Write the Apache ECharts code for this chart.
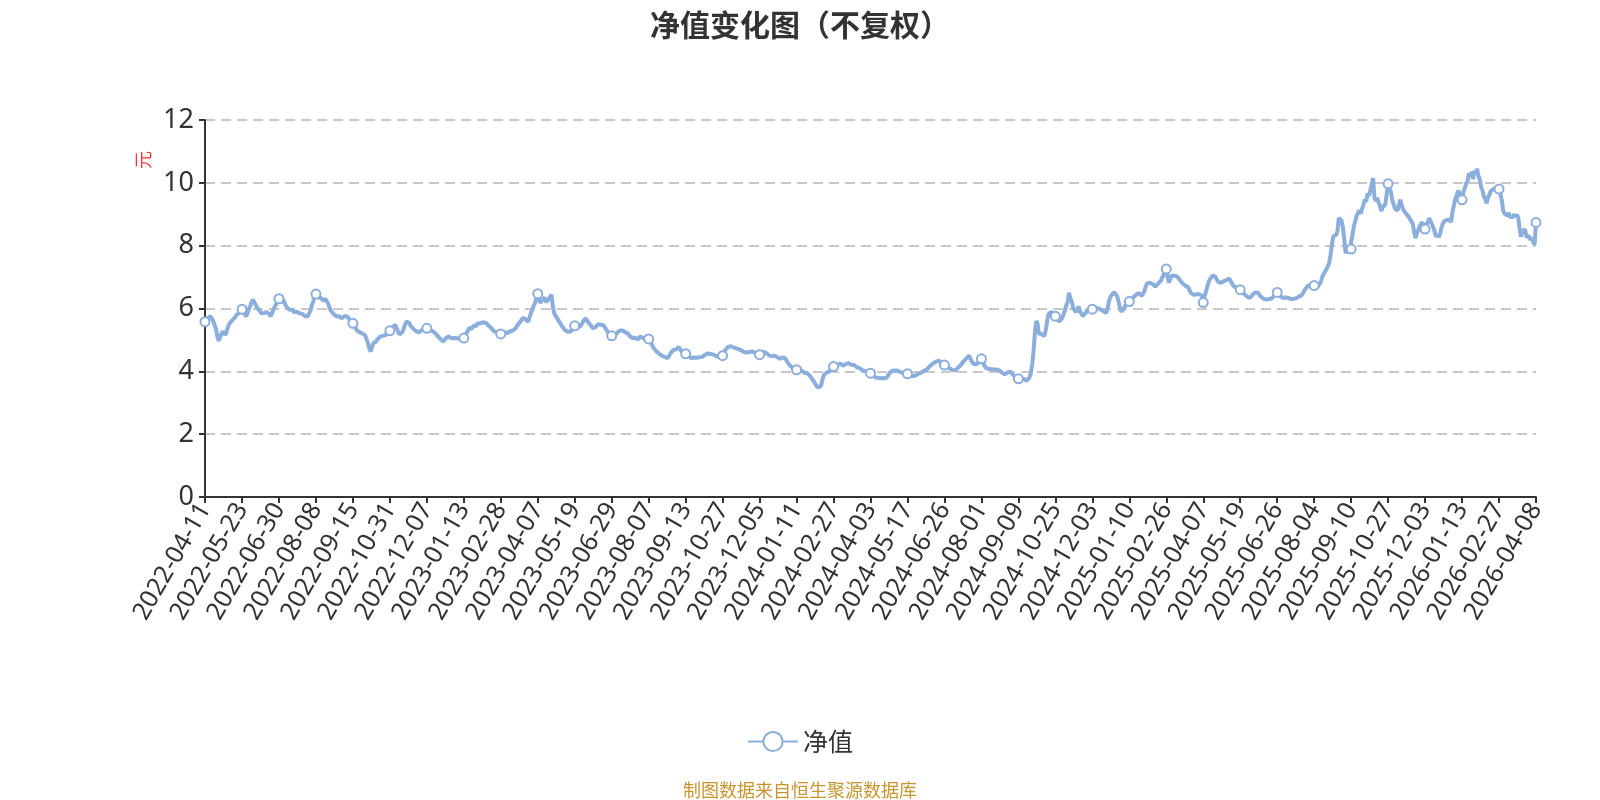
<!DOCTYPE html>
<html><head><meta charset="utf-8">
<script src="https://cdn.jsdelivr.net/npm/echarts@6/dist/echarts.min.js"></script>
<style>html,body{margin:0;padding:0;background:#fff}#c{width:1600px;height:800px}</style>
</head><body><div id="c"></div><script>
// ---- data ----
const startDate = '2022-04-11';
const marketHolidays = [
 '2022-05-02','2022-05-03','2022-05-04','2022-06-03','2022-09-12','2022-10-03','2022-10-04','2022-10-05','2022-10-06','2022-10-07',
 '2023-01-02','2023-01-23','2023-01-24','2023-01-25','2023-01-26','2023-01-27','2023-04-05','2023-05-01','2023-05-02','2023-05-03','2023-06-22','2023-06-23','2023-09-29','2023-10-02','2023-10-03','2023-10-04','2023-10-05','2023-10-06',
 '2024-01-01','2024-02-09','2024-02-12','2024-02-13','2024-02-14','2024-02-15','2024-02-16','2024-04-04','2024-04-05','2024-05-01','2024-05-02','2024-05-03','2024-06-10','2024-09-16','2024-09-17','2024-10-01','2024-10-02','2024-10-03','2024-10-04','2024-10-07',
 '2025-01-01','2025-01-28','2025-01-29','2025-01-30','2025-01-31','2025-02-03','2025-02-04','2025-04-04','2025-05-01','2025-05-02','2025-05-05','2025-06-02','2025-10-01','2025-10-02','2025-10-03','2025-10-06','2025-10-07','2025-10-08',
 '2026-01-01','2026-01-02','2026-02-16','2026-02-17','2026-02-18','2026-02-19','2026-02-20','2026-02-23','2026-04-06'
];
// quarter-end NAV dates that fall on a weekend
const extraNavDates = ['2022-12-31','2023-09-30','2023-12-31','2024-03-31','2024-06-30'];
const yTicks = [0, 2, 4, 6, 8, 10, 12];
const seriesName = '净值';

const navA = [
 5.58,5.62,5.70,5.66,5.75,5.71,5.60,5.48,5.35,5.12,4.97,5.08,5.20,5.27,5.22,5.16,5.30,5.44,5.53,5.58,5.63,5.60,5.72,5.80,5.76,5.86,5.93,
 5.98,5.90,5.82,5.75,5.84,5.97,6.08,6.20,6.28,6.22,6.12,6.03,5.98,5.92,5.85,5.80,5.86,5.91,5.88,5.90,5.82,5.75,5.86,5.97,6.06,6.14,6.22,
 6.31,6.25,6.20,6.28,6.22,6.10,6.02,5.98,5.96,5.92,5.95,5.88,5.91,5.90,5.86,5.85,5.81,5.83,5.78,5.75,5.72,5.75,5.80,5.93,6.10,6.22,6.38,
 6.46,6.40,6.35,6.38,6.33,6.25,6.22,6.30,6.28,6.15,6.02,5.92,5.88,5.82,5.78,5.75,5.72,5.75,5.70,5.69,5.72,5.76,5.80,5.74,5.68,5.62,5.58,
 5.53,5.45,5.38,5.30,5.27,5.24,5.26,5.20,5.22,5.15,5.11,4.90,4.72,4.63,4.78,4.90,4.86,4.95,5.02,5.08,5.11,5.06,5.13,5.18,5.16,5.22,5.26,
 5.29,5.32,5.40,5.45,5.48,5.38,5.25,5.18,5.16,5.24,5.35,5.48,5.58,5.64,5.55,5.46,5.40,5.36,5.32,5.28,5.25,5.24,5.27,5.30,5.33,5.35,5.38,
 5.37,5.35,5.32,5.30,5.28,5.27,5.22,5.16,5.12,5.08,5.02,4.97,4.95,5.00,5.06,5.09,5.11,5.07,5.05,5.08,5.06,5.08,5.05,5.07,5.04,5.06,5.05,
 5.06,5.12,5.22,5.30,5.38,5.42,5.36,5.45,5.48,5.44,5.52,5.47,5.53,5.50,5.56,5.54,5.55,5.50,5.46,5.43,5.38,5.32,5.28,5.26,5.23,5.21,5.20,
 5.19,5.17,5.20,5.24,5.21,5.22,5.25,5.28,5.27,5.30,5.32,5.38,5.45,5.52,5.55,5.62,5.70,5.75,5.66,5.60,5.58,5.72,5.86,5.96,6.08,6.17,6.32
];
const navB = [
 6.47,6.28,6.18,6.26,6.30,6.35,6.20,6.18,6.30,6.36,6.44,6.08,5.85,5.80,5.70,5.68,5.56,5.52,5.42,5.40,5.31,5.30,5.26,5.31,5.27,5.33,5.38,
 5.45,5.40,5.42,5.38,5.43,5.50,5.58,5.63,5.69,5.62,5.55,5.50,5.45,5.38,5.34,5.40,5.46,5.50,5.53,5.48,5.51,5.47,5.42,5.33,5.27,5.20,5.16,
 5.13,5.16,5.14,5.20,5.22,5.26,5.30,5.32,5.30,5.28,5.24,5.27,5.20,5.13,5.08,5.06,5.04,5.07,5.03,5.02,5.08,5.11,5.07,5.05,5.08,5.04,5.05,
 5.03,4.95,4.88,4.79,4.72,4.66,4.62,4.58,4.55,4.52,4.49,4.47,4.45,4.43,4.42,4.48,4.58,4.64,4.68,4.72,4.70,4.74,4.77,4.70,4.64,4.60,4.58,
 4.56,4.52,4.48,4.45,4.42,4.40,4.44,4.41,4.43,4.42,4.45,4.47,4.46,4.49,4.52,4.55,4.57,4.58,4.55,4.53,4.54,4.52,4.49,4.47,4.46,4.49,4.48,
 4.50,4.60,4.68,4.72,4.78,4.81,4.80,4.79,4.76,4.78,4.73,4.72,4.70,4.68,4.66,4.63,4.61,4.58,4.60,4.58,4.62,4.65,4.63,4.60,4.58,4.55,4.54,
 4.53,4.56,4.60,4.62,4.63,4.58,4.54,4.50,4.52,4.49,4.48,4.50,4.47,4.45,4.44,4.40,4.42,4.45,4.47,4.40,4.32,4.25,4.20,4.15,4.12,4.10,4.07,
 4.05,4.03,4.04,4.00,4.01,3.98,3.95,3.96,3.94,3.90,3.84,3.80,3.72,3.67,3.58,3.50,3.46,3.50,3.57,3.75,3.89,3.92,3.96,3.98,4.00,4.06,4.11,
 4.15,4.18,4.22,4.20,4.23,4.25,4.21,4.18,4.20,4.23,4.22,4.26,4.24,4.21,4.23,4.20,4.16,4.13,4.11,4.10,4.06,4.04,4.02,4.01,3.98,3.96,3.95
];
const navC = [
 3.94,3.90,3.86,3.82,3.80,3.82,3.79,3.81,3.78,3.76,3.78,3.73,3.80,3.88,3.95,3.99,4.02,4.04,4.03,4.05,4.02,3.99,3.97,3.98,3.95,3.93,3.94,
 3.92,3.90,3.87,3.85,3.83,3.85,3.88,3.90,3.92,3.94,3.96,3.99,4.01,4.03,4.05,4.10,4.14,4.19,4.22,4.26,4.29,4.31,4.33,4.34,4.32,4.28,4.24,
 4.20,4.17,4.13,4.11,4.09,4.06,4.04,4.02,4.03,4.08,4.12,4.15,4.20,4.26,4.32,4.36,4.41,4.46,4.50,4.40,4.30,4.26,4.22,4.21,4.24,4.30,4.36,
 4.40,4.30,4.20,4.12,4.10,4.08,4.09,4.07,4.08,4.06,4.05,4.06,4.04,4.03,4.00,3.96,3.93,3.90,3.93,3.96,3.98,3.99,3.94,3.89,3.85,3.81,3.78,
 3.76,3.74,3.77,3.79,3.76,3.72,3.70,3.72,3.80,3.92,4.20,4.60,5.20,5.60,5.52,5.20,5.16,5.18,5.22,5.12,5.32,5.60,5.82,5.88,5.90,5.84,5.78,
 5.75,5.68,5.65,5.58,5.64,5.70,5.82,5.94,6.10,6.22,6.50,6.32,6.22,6.02,6.00,5.88,5.98,6.06,5.90,5.84,5.76,5.82,5.85,5.92,5.90,5.96,5.94,
 5.98,5.99,6.02,6.00,6.01,5.99,5.97,5.96,5.92,5.88,5.85,5.98,6.20,6.35,6.42,6.48,6.52,6.54,6.40,6.25,6.05,5.90,5.85,5.98,6.10,6.14,6.18,
 6.22,6.28,6.33,6.36,6.40,6.44,6.47,6.49,6.44,6.40,6.38,6.55,6.70,6.80,6.84,6.82,6.86,6.78,6.72,6.70,6.76,6.79,6.80,6.88,6.98,7.06,7.15,
 7.26,7.02,6.82,6.95,7.05,7.08,7.04,7.00,7.02,6.96,6.90,6.84,6.80,6.76,6.72,6.71,6.68,6.58,6.49,6.46,6.44,6.43,6.45,6.42,6.46,6.49,6.40
];
const navD = [
 6.19,6.40,6.54,6.70,6.85,6.94,7.00,7.05,7.07,7.00,6.92,6.84,6.80,6.82,6.85,6.87,6.84,6.90,6.94,6.96,6.88,6.80,6.72,6.68,6.66,6.63,6.62,
 6.60,6.55,6.50,6.46,6.43,6.38,6.34,6.33,6.38,6.44,6.48,6.51,6.54,6.50,6.44,6.38,6.33,6.31,6.30,6.29,6.28,6.30,6.29,6.32,6.36,6.42,6.48,
 6.51,6.46,6.40,6.36,6.34,6.37,6.35,6.38,6.34,6.31,6.30,6.29,6.31,6.30,6.33,6.35,6.38,6.40,6.43,6.50,6.58,6.65,6.70,6.74,6.76,6.72,6.75,
 6.73,6.68,6.67,6.62,6.78,6.86,7.02,7.06,7.18,7.20,7.34,7.46,7.72,8.05,8.30,8.26,8.34,8.45,8.88,8.82,8.80,8.58,8.20,7.76,7.85,7.78,7.86,
 7.89,8.35,8.62,8.78,8.95,9.04,9.12,9.02,9.18,9.30,9.48,9.40,9.66,9.58,9.52,9.95,10.15,9.55,9.42,9.52,9.38,9.28,9.10,9.22,9.18,9.32,9.65,
 9.97,9.82,9.72,9.45,9.32,9.18,9.22,9.12,9.34,9.46,9.25,9.16,9.08,9.12,8.98,8.96,8.85,8.82,8.70,8.45,8.24,8.40,8.50,8.62,8.68,8.75,8.60,
 8.53,8.68,8.75,8.88,8.78,8.76,8.58,8.45,8.28,8.36,8.27,8.38,8.58,8.70,8.78,8.74,8.82,8.76,8.82,8.75,9.08,9.28,9.48,9.58,9.75,9.72,9.62,
 9.46,9.72,9.82,9.98,10.05,10.30,10.22,10.35,10.12,10.38,10.28,10.45,10.20,10.12,9.85,9.75,9.55,9.48,9.35,9.55,9.62,9.74,9.68,9.80,9.74,9.85,9.79,
 9.80,9.65,9.45,9.12,9.02,9.06,8.96,9.04,8.92,8.98,8.90,9.00,8.92,8.99,8.90,8.55,8.29,8.45,8.40,8.52,8.28,8.22,8.30,8.18,8.25,8.10,8.03,
 8.74
];

// ---- build ----
const navValues = navA.concat(navB, navC, navD);
function navDates(start, count, holidays, extras) {
  const hol = new Set(holidays);
  const ext = new Set(extras);
  const out = [];
  const d = new Date(start + 'T00:00:00Z');
  while (out.length < count) {
    const wd = d.getUTCDay();
    const s = d.toISOString().slice(0, 10);
    if ((wd !== 0 && wd !== 6 && !hol.has(s)) || ext.has(s)) out.push(s);
    d.setUTCDate(d.getUTCDate() + 1);
  }
  return out;
}
const dates = navDates(startDate, navValues.length, marketHolidays, extraNavDates);

const chart = echarts.init(document.getElementById('c'), null, {renderer: 'canvas'});
const lineColor = '#8BAEDC';
const latinFont = "'Noto Sans', 'Noto Sans CJK SC', sans-serif";
chart.setOption({
  animation: false,
  backgroundColor: '#fff',
  textStyle: {fontFamily: "'Noto Sans CJK SC', 'Noto Sans', sans-serif"},
  title: [
    {text: '净值变化图（不复权）', left: 'center', top: 5,
     textStyle: {fontSize: 30, fontWeight: 'bold', color: '#333'}},
    {text: '制图数据来自恒生聚源数据库', left: 'center', top: 776,
     textStyle: {fontSize: 18, fontWeight: 'normal', color: '#C8952F'}}
  ],
  legend: {
    data: [seriesName], left: 'center', top: 724,
    itemWidth: 50, itemHeight: 24,
    textStyle: {fontSize: 25, color: '#333'}
  },
  grid: {left: 205, right: 64, top: 120, bottom: 303},
  graphic: [{
    type: 'text', x: 143, y: 160, rotation: Math.PI / 2,
    style: {text: '元', fill: '#FF3333', fontSize: 18, align: 'center', verticalAlign: 'middle',
            fontFamily: "'Noto Sans CJK SC', sans-serif"}
  }],
  xAxis: {
    type: 'category', data: dates, boundaryGap: false,
    axisLine: {lineStyle: {color: '#333', width: 2}},
    axisTick: {show: true, interval: 26, length: 6, lineStyle: {color: '#333', width: 2}},
    axisLabel: {interval: 26, rotate: 60, fontSize: 25, color: '#333', margin: 8, fontFamily: latinFont}
  },
  yAxis: {
    type: 'value', min: yTicks[0], max: yTicks[yTicks.length - 1], interval: 2,
    axisLine: {show: true, lineStyle: {color: '#333', width: 2}},
    axisTick: {show: true, length: 6, lineStyle: {color: '#333', width: 2}},
    axisLabel: {fontSize: 27, color: '#333', margin: 11, fontFamily: latinFont},
    splitLine: {show: true, lineStyle: {color: '#C8C8C8', width: 2, type: [10, 6]}}
  },
  series: [{
    name: seriesName, type: 'line', data: navValues,
    symbol: 'emptyCircle', symbolSize: 9, showAllSymbol: 'auto',
    lineStyle: {color: lineColor, width: 4},
    itemStyle: {color: lineColor, borderWidth: 2}
  }]
});
</script></body></html>
